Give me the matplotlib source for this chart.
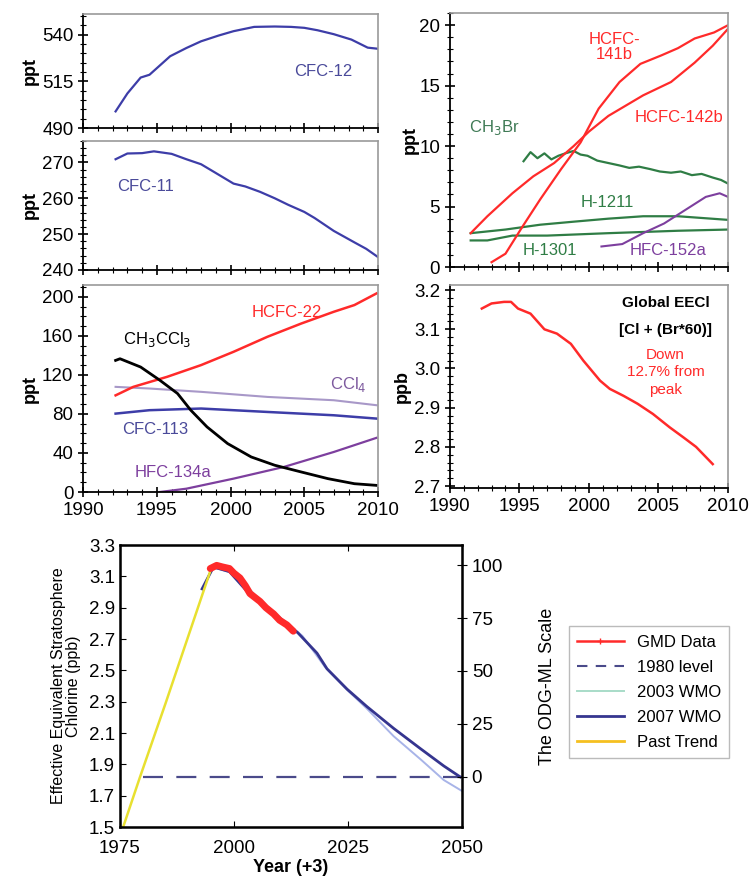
import matplotlib
matplotlib.use("Agg")
import matplotlib.pyplot as plt
from matplotlib.ticker import AutoMinorLocator, MultipleLocator, NullFormatter
from matplotlib.lines import Line2D

plt.rcParams['font.family'] = ['Liberation Sans', 'DejaVu Sans']

# ---- top-left panels ----
cfc12_years = [1992.2, 1993.0, 1993.9, 1994.5, 1995.9, 1997.0, 1998.0, 1999.2, 2000.2, 2001.6, 2003.0, 2004.1, 2005.0, 2005.9, 2007.0, 2008.2, 2009.3, 2010.0]
cfc12 = [498.9, 508.5, 517.0, 518.5, 528.4, 532.8, 536.4, 539.5, 541.8, 544.1, 544.3, 544.1, 543.6, 542.3, 540.2, 537.3, 533.0, 532.4]
cfc12_ticks = [490, 515, 540]

cfc11_years = [1992.2, 1993.0, 1994.0, 1994.8, 1996.0, 1997.0, 1998.0, 1998.9, 2000.2, 2001.0, 2002.0, 2003.0, 2003.9, 2005.0, 2005.7, 2007.0, 2008.4, 2009.2, 2010.0]
cfc11 = [270.9, 272.5, 272.6, 273.1, 272.4, 270.9, 269.5, 267.3, 264.1, 263.3, 261.8, 260.0, 258.2, 256.2, 254.5, 250.9, 247.7, 245.9, 243.6]

hcfc22_years = [1992.2, 1993.4, 1995.7, 1998.0, 2000.2, 2002.5, 2004.8, 2007.0, 2008.4, 2009.9]
hcfc22 = [99, 107.7, 118, 130, 143.6, 159, 172.6, 184.6, 191.5, 203.4]

ch3ccl3_years = [1992.2, 1992.5, 1993.9, 1995.2, 1996.4, 1997.3, 1998.4, 1999.8, 2001.4, 2003.0, 2004.8, 2006.6, 2008.4, 2009.9]
ch3ccl3 = [134.8, 136.5, 128, 114.5, 100.9, 83.8, 66.7, 49.6, 35.9, 27.4, 20.5, 13.7, 8.5, 6.8]

ccl4_years = [1992.2, 1994.5, 1998.0, 2002.5, 2007.0, 2009.9]
ccl4 = [107.7, 106, 102.6, 97.4, 94, 88.9]

cfc113_years = [1992.2, 1994.5, 1998.0, 2002.5, 2007.0, 2009.9]
cfc113 = [80.3, 83.8, 85.5, 82, 78.6, 75.2]

hfc134a_years = [1995.2, 1997.0, 2000.2, 2003.6, 2007.0, 2009.9]
hfc134a = [0, 3.4, 13.7, 25.6, 41, 55.5]

# ---- top-right panels ----
hcfc141b_years = [1993.0, 1994.0, 1995.2, 1996.5, 1998.0, 1999.4, 2000.7, 2002.2, 2003.7, 2005.2, 2006.4, 2007.6, 2009.0, 2010.0]
hcfc141b = [0.4, 1.1, 3.3, 5.6, 8.1, 10.3, 13.1, 15.3, 16.8, 17.5, 18.1, 18.9, 19.4, 20.0]

hcfc142b_years = [1991.5, 1992.7, 1994.5, 1996.0, 1997.5, 1998.9, 2000.0, 2001.4, 2003.9, 2005.9, 2007.6, 2008.9, 2010.0]
hcfc142b = [2.8, 4.2, 6.1, 7.5, 8.6, 10.0, 11.2, 12.5, 14.2, 15.3, 16.9, 18.3, 19.7]

ch3br_years = [1995.3, 1995.8, 1996.3, 1996.8, 1997.3, 1997.8, 1998.3, 1998.9, 1999.4, 1999.9, 2000.6, 2001.4, 2002.2, 2002.9, 2003.6, 2004.4, 2005.1, 2005.9, 2006.6, 2007.4, 2008.1, 2008.9, 2009.5, 2010.0]
ch3br = [8.75, 9.5, 9.0, 9.4, 8.9, 9.2, 9.4, 9.6, 9.3, 9.2, 8.8, 8.6, 8.4, 8.2, 8.3, 8.1, 7.9, 7.8, 7.9, 7.6, 7.7, 7.4, 7.2, 6.9]

h1211_years = [1991.5, 1994.0, 1996.5, 1998.9, 2001.4, 2003.9, 2006.4, 2010.0]
h1211 = [2.8, 3.1, 3.5, 3.75, 4.0, 4.2, 4.2, 3.9]

h1301_years = [1991.5, 1992.7, 1994.5, 1997.0, 2001.4, 2006.4, 2010.0]
h1301 = [2.2, 2.2, 2.6, 2.6, 2.8, 3.0, 3.1]

hfc152a_years = [2000.9, 2002.4, 2003.9, 2005.4, 2006.9, 2008.4, 2009.4, 2010.0]
hfc152a = [1.7, 1.9, 2.8, 3.6, 4.7, 5.8, 6.1, 5.8]

eecl_years = [1992.3, 1993.0, 1993.9, 1994.4, 1994.9, 1995.8, 1996.8, 1997.7, 1998.7, 1999.6, 2000.8, 2001.5, 2002.5, 2003.5, 2004.6, 2005.8, 2006.8, 2007.7, 2008.9]
eecl = [3.153, 3.166, 3.17, 3.17, 3.153, 3.14, 3.10, 3.089, 3.063, 3.02, 2.969, 2.948, 2.93, 2.91, 2.884, 2.85, 2.824, 2.80, 2.756]

# ---- bottom panel ----
past_years = [1975.7, 1979.4, 1985.0, 1990.0, 1995.0]
past_trend = [1.50, 1.82, 2.29, 2.72, 3.15]

gmd_years = [1994.8, 1996.2, 1997.5, 1999.0, 2000.0, 2001.3, 2002.5, 2003.5, 2005.7, 2007.0, 2008.7, 2010.0, 2011.6, 2013.0]
gmd = [3.15, 3.17, 3.16, 3.15, 3.12, 3.09, 3.04, 2.99, 2.94, 2.90, 2.86, 2.82, 2.79, 2.75]

wmo07_years = [1993.0, 1995.5, 1999.0, 2003.0, 2007.0, 2011.0, 2014.0, 2018.2, 2020.4, 2024.8, 2029.1, 2035.0, 2040.9, 2046.0, 2049.6]
wmo07 = [3.02, 3.16, 3.13, 3.00, 2.91, 2.81, 2.74, 2.61, 2.51, 2.38, 2.27, 2.13, 2.00, 1.89, 1.82]

wmo03_years = [1995.0, 2000.0, 2005.0, 2010.0, 2015.0, 2020.0, 2025.0, 2029.0, 2035.0, 2041.0, 2046.0, 2050.0]
wmo03 = [3.16, 3.12, 2.97, 2.84, 2.72, 2.52, 2.37, 2.26, 2.08, 1.93, 1.80, 1.73]

level_years = [1980, 2050]
level_1980 = [1.82, 1.82]

odg_ticks = [0, 25, 50, 75, 100]
odg_zero = 1.822
odg_hundred = 3.171

RED = '#ff2a2a'
GREEN = '#2f7d45'
PURPLE = '#7d3f9e'
BLUE = '#3d3da8'

fig = plt.figure(figsize=(7.56, 8.91), dpi=100)


def style_top(ax, ylim, major, minor_n, show_x=False):
    ax.set_xlim(1990, 2010)
    ax.set_ylim(*ylim)
    ax.xaxis.set_major_locator(MultipleLocator(5))
    ax.xaxis.set_minor_locator(MultipleLocator(1))
    ax.yaxis.set_major_locator(MultipleLocator(major))
    ax.yaxis.set_minor_locator(AutoMinorLocator(minor_n))
    ax.tick_params(which='major', direction='inout', length=7, width=1.2, labelsize=13.5)
    ax.tick_params(which='minor', direction='inout', length=4, width=0.8)
    for s in ['top', 'right']:
        ax.spines[s].set_color('#9a9a9a')
        ax.spines[s].set_linewidth(1.2)
    for s in ['left', 'bottom']:
        ax.spines[s].set_linewidth(1.3)
    if not show_x:
        ax.xaxis.set_major_formatter(NullFormatter())


# CFC-12
ax1 = fig.add_axes([0.110, 0.8563, 0.390, 0.128])
ax1.plot(cfc12_years, cfc12, color=BLUE, lw=1.6)
style_top(ax1, (490, 551), 25, 5)
ax1.set_yticks(cfc12_ticks)
ax1.yaxis.set_minor_locator(MultipleLocator(5))
ax1.set_ylabel('ppt', fontsize=13, fontweight='bold', labelpad=2)
ax1.text(2006.3, 520.3, 'CFC-12', color='#4a4a9a', fontsize=12, ha='center', va='center')

# CFC-11
ax2 = fig.add_axes([0.110, 0.697, 0.390, 0.1448])
ax2.plot(cfc11_years, cfc11, color=BLUE, lw=1.6)
style_top(ax2, (240, 276), 10, 5)
ax2.set_ylabel('ppt', fontsize=13, fontweight='bold', labelpad=2)
ax2.text(1994.2, 263.2, 'CFC-11', color='#4a4a9a', fontsize=12, ha='center', va='center')

# mixed
ax3 = fig.add_axes([0.110, 0.4478, 0.390, 0.2323])
ax3.plot(ccl4_years, ccl4, color='#a898c8', lw=1.5)
ax3.plot(cfc113_years, cfc113, color=BLUE, lw=1.8)
ax3.plot(hcfc22_years, hcfc22, color=RED, lw=1.8)
ax3.plot(hfc134a_years, hfc134a, color=PURPLE, lw=1.6)
ax3.plot(ch3ccl3_years, ch3ccl3, color='black', lw=2.0)
style_top(ax3, (0, 212), 40, 4, show_x=True)
ax3.set_ylabel('ppt', fontsize=13, fontweight='bold', labelpad=2)
ax3.text(1995.0, 155.9, 'CH$_3$CCl$_3$', color='black', fontsize=12, ha='center', va='center')
ax3.text(2003.8, 183.6, 'HCFC-22', color=RED, fontsize=12, ha='center', va='center')
ax3.text(2008.0, 109.7, 'CCl$_4$', color='#7d5a9e', fontsize=12, ha='center', va='center')
ax3.text(1994.9, 63.6, 'CFC-113', color='#4a4a9a', fontsize=12, ha='center', va='center')
ax3.text(1996.1, 19.5, 'HFC-134a', color=PURPLE, fontsize=12, ha='center', va='center')

# HCFC / halons
ax4 = fig.add_axes([0.595, 0.7003, 0.368, 0.285])
ax4.plot(ch3br_years, ch3br, color=GREEN, lw=1.6)
ax4.plot(h1211_years, h1211, color=GREEN, lw=1.6)
ax4.plot(h1301_years, h1301, color=GREEN, lw=1.6)
ax4.plot(hfc152a_years, hfc152a, color=PURPLE, lw=1.5)
ax4.plot(hcfc142b_years, hcfc142b, color=RED, lw=1.6)
ax4.plot(hcfc141b_years, hcfc141b, color=RED, lw=1.6)
style_top(ax4, (0, 21), 5, 5)
ax4.set_ylabel('ppt', fontsize=13, fontweight='bold', labelpad=0)
ax4.text(2001.8, 18.2, 'HCFC-\n141b', color=RED, fontsize=12, ha='center', va='center', linespacing=1.0)
ax4.text(2006.5, 12.4, 'HCFC-142b', color=RED, fontsize=12, ha='center', va='center')
ax4.text(1993.2, 11.5, 'CH$_3$Br', color='#3f7a55', fontsize=12, ha='center', va='center')
ax4.text(2001.3, 5.3, 'H-1211', color=GREEN, fontsize=12, ha='center', va='center')
ax4.text(1997.2, 1.4, 'H-1301', color=GREEN, fontsize=12, ha='center', va='center')
ax4.text(2005.7, 1.4, 'HFC-152a', color=PURPLE, fontsize=12, ha='center', va='center')

# EECl
ax5 = fig.add_axes([0.595, 0.4523, 0.368, 0.2278])
ax5.plot(eecl_years, eecl, color=RED, lw=1.8)
style_top(ax5, (2.695, 3.213), 0.1, 5, show_x=True)
ax5.yaxis.set_major_formatter(plt.FormatStrFormatter('%.1f'))
ax5.set_ylabel('ppb', fontsize=13, fontweight='bold', labelpad=2)
ax5.text(2005.5, 3.166, 'Global EECl', color='black', fontsize=11, fontweight='bold', ha='center', va='center')
ax5.text(2005.5, 3.097, '[Cl + (Br*60)]', color='black', fontsize=11, fontweight='bold', ha='center', va='center')
ax5.text(2005.5, 2.99, 'Down\n12.7% from\npeak', color=RED, fontsize=11, ha='center', va='center', linespacing=1.3)

# bottom panel
ax6 = fig.add_axes([0.1587, 0.0718, 0.4524, 0.3165])
ax6.plot(level_years, level_1980, color='#4a4a8a', lw=1.6, dashes=(9, 6))
ax6.plot(wmo03_years, wmo03, color='#a8b4e8', lw=1.4)
ax6.plot(wmo07_years, wmo07, color='#35358f', lw=2.0)
ax6.plot(past_years, past_trend, color='#e8e030', lw=1.8)
ax6.plot(gmd_years, gmd, color=RED, lw=5, solid_capstyle='round')
ax6.set_xlim(1975, 2050)
ax6.set_ylim(1.5, 3.3)
ax6.set_xticks([1975, 2000, 2025, 2050])
ax6.set_yticks([1.5, 1.7, 1.9, 2.1, 2.3, 2.5, 2.7, 2.9, 3.1, 3.3])
ax6.yaxis.set_major_formatter(plt.FormatStrFormatter('%.1f'))
ax6.tick_params(direction='in', length=4, labelsize=13.5)
ax6.tick_params(axis='x', top=True, pad=9)
for s in ax6.spines.values():
    s.set_linewidth(1.8)
ax6.set_xlabel('Year (+3)', fontsize=13, fontweight='bold', labelpad=2)
ax6.set_ylabel('Effective Equivalent Stratosphere\nChlorine (ppb)', fontsize=11.5, labelpad=6, linespacing=1.0)

ax7 = ax6.twinx()
lo = (1.5 - odg_zero) / (odg_hundred - odg_zero) * 100
hi = (3.3 - odg_zero) / (odg_hundred - odg_zero) * 100
ax7.set_ylim(lo, hi)
ax7.set_yticks(odg_ticks)
ax7.tick_params(direction='inout', length=7, labelsize=13.5)
ax7.set_ylabel('The ODG-ML Scale', fontsize=13, labelpad=26)

handles = [
    Line2D([], [], color=RED, lw=1.8, marker='+', markersize=5),
    Line2D([], [], color='#4a4a8a', lw=1.5, dashes=(5, 4)),
    Line2D([], [], color='#a8dcc8', lw=1.4),
    Line2D([], [], color='#35358f', lw=2.0),
    Line2D([], [], color='#f5c020', lw=2.0),
]
labels = ['GMD Data', '1980 level', '2003 WMO', '2007 WMO', 'Past Trend']
fig.legend(handles, labels, loc='upper left', bbox_to_anchor=(0.741, 0.3064),
           fontsize=12, frameon=True, fancybox=False, edgecolor='#aaaaaa',
           handlelength=2.8, labelspacing=0.6, borderpad=0.5)

fig.savefig('out.png', dpi=100)
